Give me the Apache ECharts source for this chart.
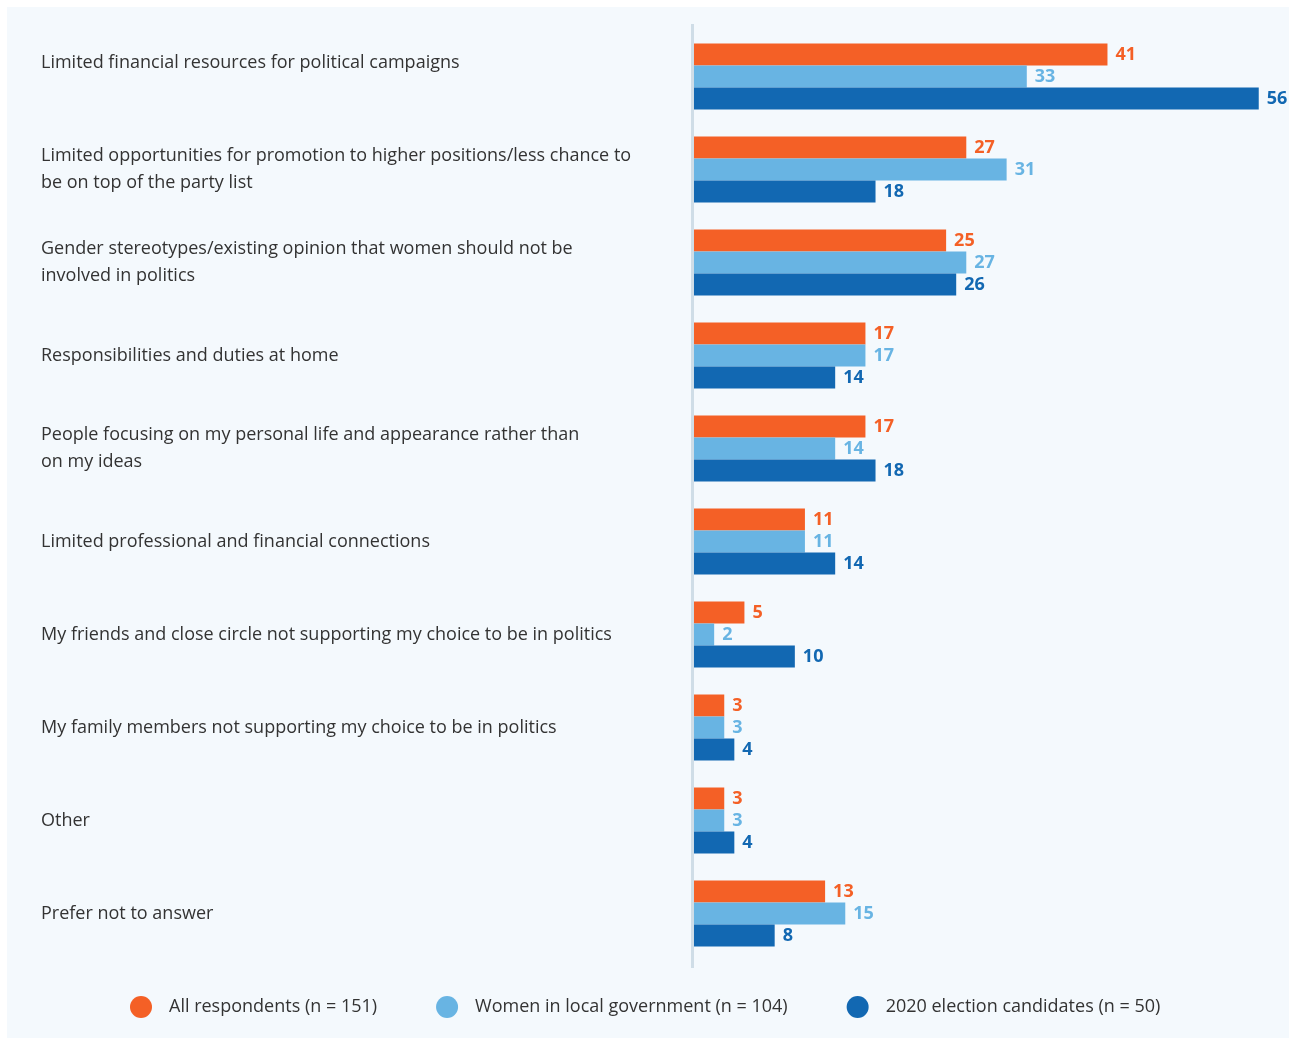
<!DOCTYPE html>
<html>
<head>
<meta charset="utf-8">
<title>Barriers to political participation</title>
<script src="https://cdn.jsdelivr.net/npm/echarts@6/dist/echarts.min.js"></script>
<style>
  html, body { margin: 0; padding: 0; background: #ffffff; }
  #chart { width: 1289px; height: 1038px; }
</style>
</head>
<body>
<div id="chart"></div>
<script>
// Survey answers, top to bottom
const categories = [
  'Limited financial resources for political campaigns\n',
  'Limited opportunities for promotion to higher positions/less chance to\nbe on top of the party list',
  'Gender stereotypes/existing opinion that women should not be\ninvolved in politics',
  'Responsibilities and duties at home',
  'People focusing on my personal life and appearance rather than\non my ideas',
  'Limited professional and financial connections',
  'My friends and close circle not supporting my choice to be in politics',
  'My family members not supporting my choice to be in politics',
  'Other',
  'Prefer not to answer'
];

const seriesNames = [
  'All respondents (n = 151)',
  'Women in local government (n = 104)',
  '2020 election candidates (n = 50)'
];

// Percentages per group
const allRespondents = [41, 27, 25, 17, 17, 11, 5, 3, 3, 13];
const womenLocalGov  = [33, 31, 27, 17, 14, 11, 2, 3, 3, 15];
const candidates2020 = [56, 18, 26, 14, 18, 14, 10, 4, 4, 8];

const colors = ['#f46026', '#68b4e3', '#1268b2'];

const chart = echarts.init(document.getElementById('chart'), null, { renderer: 'canvas' });

function barSeries(name, data, color) {
  return {
    name: name,
    type: 'bar',
    data: data,
    barWidth: 22,
    barGap: '0%',
    itemStyle: { color: color },
    label: {
      show: true,
      position: 'right',
      distance: 8,
      color: color,
      fontFamily: 'Open Sans',
      fontWeight: 'bold',
      fontSize: 18
    },
    emphasis: { disabled: true }
  };
}

chart.setOption({
  backgroundColor: '#ffffff',
  animation: false,
  graphic: [
    {
      // light panel behind the chart
      type: 'rect',
      z: -10,
      silent: true,
      shape: { x: 7, y: 7, width: 1282, height: 1031 },
      style: { fill: '#f4f9fd' }
    },
    {
      // baseline rule at the left of the bars
      type: 'line',
      z: 10,
      silent: true,
      shape: { x1: 692.5, y1: 24, x2: 692.5, y2: 968 },
      style: { stroke: '#cfdde7', lineWidth: 3 }
    }
  ],
  grid: { left: 694, top: 30, right: 0, height: 930, containLabel: false },
  legend: {
    left: 125,
    top: 991,
    icon: 'circle',
    itemWidth: 22,
    itemHeight: 22,
    itemGap: 59,
    textStyle: {
      fontFamily: 'Open Sans',
      fontSize: 18,
      color: '#333333',
      padding: [0, 0, 0, 12]
    },
    data: seriesNames
  },
  xAxis: {
    type: 'value',
    min: 0,
    max: 59,
    show: false
  },
  yAxis: {
    type: 'category',
    inverse: true,
    data: categories,
    axisLine: { show: false },
    axisTick: { show: false },
    axisLabel: {
      align: 'left',
      margin: 653,
      fontFamily: 'Open Sans',
      fontSize: 18,
      lineHeight: 27,
      color: '#333333'
    }
  },
  series: [
    barSeries(seriesNames[0], allRespondents, colors[0]),
    barSeries(seriesNames[1], womenLocalGov, colors[1]),
    barSeries(seriesNames[2], candidates2020, colors[2])
  ]
});
</script>
</body>
</html>
